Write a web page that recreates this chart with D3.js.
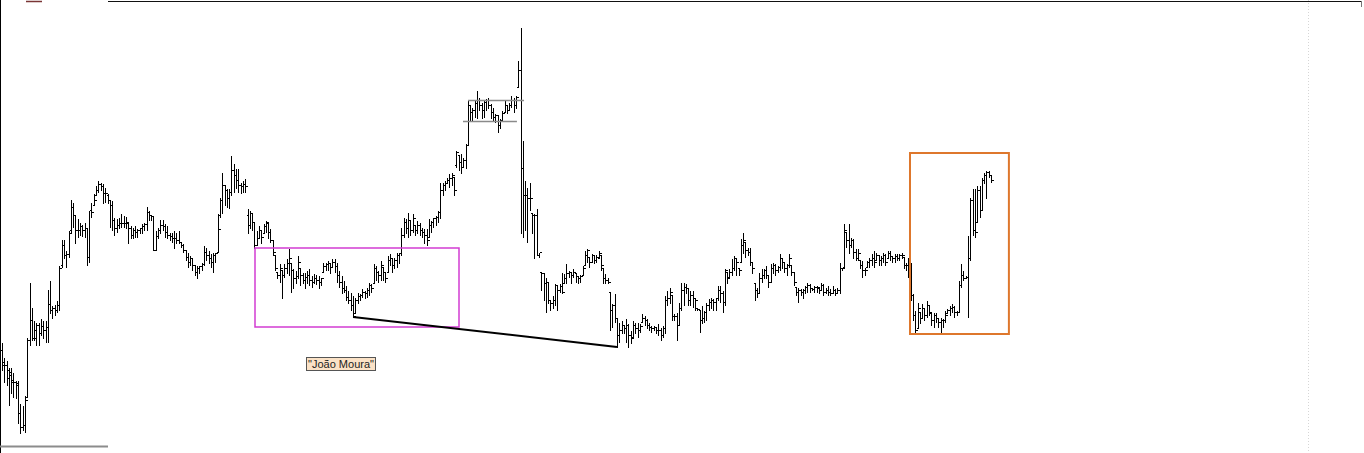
<!DOCTYPE html>
<html>
<head>
<meta charset="utf-8">
<script src="https://cdn.jsdelivr.net/npm/d3@7"></script>
<style>
  html, body { margin: 0; padding: 0; background: #fff; overflow: hidden; }
  svg { display: block; }
</style>
</head>
<body>
<svg id="chart"></svg>
<script>
// OHLC values in price points, one entry per bar, oldest first
const high = [
  158,143,140,133,133,128,120,120,97,95,105,163,218,193,180,178,178,182,180,180,211,220,195,196,200,235,261,261,250,270,301,298,286,282,278,276,278,273,290,298,307,315,320,318,317,313,307,300,300,283,282,283,287,285,284,278,
  275,273,275,272,273,277,278,294,290,285,284,270,273,281,281,277,275,268,268,270,268,270,258,257,250,248,245,243,235,235,235,238,255,253,250,247,248,248,287,303,328,315,312,312,345,337,332,332,318,320,322,
  292,290,288,278,270,275,270,277,280,277,272,260,245,228,237,230,237,242,252,237,232,230,245,232,228,228,230,232,225,227,226,225,223,238,238,240,237,242,242,238,230,225,220,215,210,208,205,203,208,207,212,210,213,218,217,237,235,230,240,233,228,245,247,242,243,248,248,273,283,282,288,280,287,275,280,278,273,272,272,282,280,283,285,290,318,318,320,323,327,328,323,350,345,347,343,357,400,395,393,400,410,403,398,400,402,403,397,393,387,385,382,390,400,395,398,405,403,405,440,473,
  360,320,313,318,287,287,292,248,228,227,223,218,200,205,217,215,217,228,227,237,230,228,232,227,225,226,235,250,252,243,247,245,246,250,245,232,227,223,208,197,207,183,
  178,180,175,182,177,170,180,178,178,177,187,185,182,178,175,175,173,
  177,173,175,205,210,213,205,187,188,198,218,218,217,213,210,210,203,193,190,195,190,198,202,203,202,203,
  215,215,210,232,228,232,242,245,243,232,262,268,258,253,253,238,217,213,228,232,232,235,225,237,238,237,235,247,242,238,237,247,235,228,213,213,212,212,215,218,217,213,215,
  215,212,218,217,213,215,212,215,212,213,238,233,277,268,277,263,262,252,252,240,240,233,240,243,247,250,248,245,245,248,247,250,250,245,247,247,247,248,243,238,243,
  238,207,190,198,188,197,193,200,195,187,188,188,183,183,182,190,192,195,197,195,190,220,237,230,225,265,303,312,312,315,315,323,328,330,330,325
];
const low = [
  130,118,115,95,107,103,102,77,67,70,68,103,155,160,160,155,155,165,162,158,158,187,182,185,188,190,233,242,233,243,267,273,257,263,265,264,263,235,238,283,295,305,308,310,297,298,297,273,270,265,268,272,273,273,272,257,
  262,262,263,263,267,267,270,270,280,280,250,250,262,267,270,263,262,260,258,252,257,257,253,248,240,233,235,230,225,222,227,230,235,240,237,233,228,238,248,283,287,295,293,292,305,308,312,308,307,308,308,
  267,272,270,252,255,262,257,267,268,262,258,245,230,222,218,202,223,227,225,208,212,217,222,215,217,212,217,215,213,217,216,212,215,228,230,230,227,233,228,218,213,207,208,200,197,190,183,187,197,200,203,202,203,205,208,217,220,218,220,220,218,228,235,228,232,233,237,245,263,267,263,265,268,265,267,265,263,257,255,263,268,273,275,278,282,305,310,317,313,315,305,333,330,327,333,332,355,380,380,383,382,390,382,383,390,392,382,380,378,368,372,380,388,387,390,393,388,392,413,267,
  263,270,258,290,267,242,245,243,210,200,188,197,190,192,195,190,208,207,217,217,223,217,223,218,217,218,225,235,238,233,238,237,238,242,230,217,217,217,170,173,178,153,
  158,167,167,158,153,157,163,167,163,168,178,175,172,170,168,170,167,
  165,160,163,167,195,197,180,180,160,175,190,195,207,195,195,193,190,190,168,177,178,180,190,192,190,190,
  200,198,188,195,217,223,225,230,225,225,238,247,243,245,235,227,200,203,207,218,222,222,213,218,227,225,228,230,232,228,225,233,225,215,205,198,205,202,207,208,208,210,208,
  208,207,210,205,207,205,205,207,205,207,207,230,233,253,247,253,242,240,240,232,223,225,233,233,235,233,240,235,235,238,235,242,240,238,238,240,240,242,232,230,223,
  200,180,167,172,177,182,180,183,185,175,173,178,173,167,173,178,187,185,188,183,185,188,213,220,222,183,240,265,263,278,283,290,317,302,323,318
];
const open = [
  150,138,135,130,125,120,118,115,87,73,75,103,160,180,162,170,175,167,174,170,173,196,190,192,190,195,235,255,245,246,270,293,285,270,270,274,270,272,243,290,295,305,310,316,314,307,305,300,295,280,272,275,277,277,277,277,
  272,265,270,268,270,272,274,276,288,285,284,250,264,270,275,274,268,265,264,262,262,260,258,255,250,243,238,242,235,228,232,234,236,248,245,242,238,245,248,285,300,315,310,302,308,330,325,320,315,314,316,
  285,275,287,278,255,262,270,267,274,277,268,260,245,228,225,230,225,232,237,237,230,222,224,232,225,220,223,225,220,218,222,220,218,228,234,236,237,233,238,234,225,218,212,210,203,200,195,187,200,204,205,208,207,210,215,217,232,228,225,233,228,228,240,242,235,240,245,247,265,278,272,280,270,275,270,275,270,268,265,263,275,278,282,283,288,310,315,317,320,322,323,335,345,338,333,340,355,395,388,390,397,400,395,390,398,400,395,388,383,385,375,380,388,395,390,395,400,395,413,430,
  332,305,305,302,287,285,285,245,228,227,217,218,200,197,200,215,210,214,217,222,227,228,225,227,224,222,225,235,245,243,238,245,240,242,245,232,222,220,208,190,195,182,
  165,170,175,172,175,165,163,175,172,170,178,182,180,175,173,172,173,
  170,170,165,172,200,202,205,184,184,175,192,210,213,212,200,205,202,192,190,180,182,188,195,198,200,198,
  202,210,207,198,228,223,228,232,242,232,238,255,258,250,248,238,217,210,207,222,225,230,225,218,232,235,230,233,242,238,232,235,235,228,213,208,210,208,210,213,215,212,211,
  213,212,210,215,208,210,208,207,210,207,210,232,233,268,260,255,260,248,242,240,235,230,233,238,240,242,240,245,240,242,245,242,247,244,242,244,242,245,243,235,235,
  235,205,185,172,188,182,192,185,195,187,180,185,182,178,180,180,187,190,192,193,188,188,215,225,222,223,242,300,270,278,310,290,320,325,328,325
];
const close = [
  135,135,122,128,118,118,117,87,73,75,100,160,180,162,162,175,167,174,170,173,196,190,192,190,195,232,255,245,246,267,293,285,270,270,274,270,272,243,290,288,300,310,316,314,307,307,300,295,280,272,275,277,277,277,278,272,
  265,270,268,270,272,274,276,288,285,284,250,264,270,275,274,268,265,264,262,262,260,258,255,250,243,238,242,235,228,232,234,236,248,245,242,238,245,247,271,300,315,310,302,308,330,325,320,315,314,316,314,
  275,287,278,255,262,270,263,274,278,268,260,248,232,225,232,225,232,237,242,230,222,224,238,225,220,223,225,220,218,222,220,218,222,234,236,237,233,238,234,225,218,212,210,203,200,195,184,200,204,205,208,207,210,215,212,232,228,225,235,228,222,240,242,235,240,245,247,265,278,272,280,270,282,270,275,270,268,265,260,275,278,282,283,288,310,315,317,320,322,325,310,348,338,333,340,355,395,388,390,397,400,395,390,398,400,395,388,383,385,375,380,387,395,390,395,400,395,403,430,332,
  305,305,302,302,285,285,245,248,227,217,218,200,197,200,215,210,214,208,222,227,228,225,228,224,222,224,232,245,250,238,245,240,243,247,235,222,220,218,190,195,182,165,
  170,175,172,175,165,162,175,172,170,174,182,180,175,173,172,173,170,
  170,165,172,200,202,208,184,184,175,192,210,213,212,200,205,202,200,191,180,182,188,195,198,200,198,202,
  210,207,198,230,222,228,232,242,238,230,255,260,250,248,238,232,210,207,222,225,230,225,218,232,235,230,233,242,238,232,235,242,228,218,208,210,208,210,213,215,212,211,213,
  213,210,215,208,210,208,207,210,207,210,232,232,270,260,255,260,248,242,247,235,230,230,238,240,242,238,245,240,242,245,238,247,244,242,244,242,245,245,235,235,235,
  205,185,170,192,182,192,185,195,188,180,185,182,178,180,180,185,190,192,193,188,188,215,225,222,223,242,300,270,268,310,290,320,325,328,325,320
];

// annotations, in bar-index / price units
const trendBars = [153, 268];                 // line joins the lows of these two bars
const rangeBox = [110.2, 199.2, 252, 173];    // x0, x1, top price, bottom price
const breakoutBox = [395.7, 438.8, 347, 166];
const flagLines = [[203.1, 227.5, 400], [200.9, 224.4, 379]];
const noteText = '"João Moura"';
const notePos = [132.5, 143];

const width = 1364;
const height = 453;

const svg = d3.select("#chart")
  .attr("width", width)
  .attr("height", height)
  .attr("viewBox", [0, 0, width, height]);

const bars = high.map((h, i) => ({ i, h, l: low[i], o: open[i], c: close[i] }));

const x = d3.scaleLinear().domain([0, bars.length - 1]).range([2, 991]);
const y = d3.scaleLinear().domain([d3.min(low), d3.max(high)]).range([433, 27]);

const px = v => Math.round(v) + 0.5;

// frame bits
svg.append("line").attr("x1", 0.5).attr("x2", 0.5).attr("y1", 0).attr("y2", height)
  .attr("stroke", "#000").attr("stroke-width", 1);
svg.append("line").attr("x1", 108).attr("x2", 1362).attr("y1", 1.5).attr("y2", 1.5)
  .attr("stroke", "#111").attr("stroke-width", 1);
svg.append("line").attr("x1", 1361.5).attr("x2", 1361.5).attr("y1", 1).attr("y2", 7)
  .attr("stroke", "#777").attr("stroke-width", 1);
svg.append("line").attr("x1", 1308.5).attr("x2", 1308.5).attr("y1", 0).attr("y2", height)
  .attr("stroke", "#d6d6d6").attr("stroke-dasharray", "1,2");
svg.append("line").attr("x1", 0).attr("x2", 108).attr("y1", 446.5).attr("y2", 446.5)
  .attr("stroke", "#8c8c8c").attr("stroke-width", 2);
svg.append("line").attr("x1", 26).attr("x2", 42).attr("y1", 1.5).attr("y2", 1.5)
  .attr("stroke", "#7a3535").attr("stroke-width", 1.5);

// bars
svg.append("g")
  .attr("fill", "none")
  .attr("stroke", "#000")
  .attr("stroke-width", 1)
  .attr("shape-rendering", "crispEdges")
  .selectAll("path")
  .data(bars)
  .join("path")
  .attr("d", d => {
    const X = px(x(d.i));
    const top = px(y(Math.max(d.h, d.o, d.c)));
    const bot = px(y(Math.min(d.l, d.o, d.c)));
    const yo = px(y(d.o)), yc = px(y(d.c));
    return `M${X},${top}V${bot}M${X - 2},${yo}H${X}M${X},${yc}H${X + 2}`;
  });

// consolidation lines near the top
svg.append("g")
  .selectAll("line")
  .data(flagLines)
  .join("line")
  .attr("x1", d => x(d[0]))
  .attr("x2", d => x(d[1]))
  .attr("y1", d => px(y(d[2])))
  .attr("y2", d => px(y(d[2])))
  .attr("stroke", "#8a8a8a")
  .attr("stroke-width", 1.5);

// range box
const rb = {
  x0: Math.round(x(rangeBox[0])), x1: Math.round(x(rangeBox[1])),
  y0: Math.round(y(rangeBox[2])), y1: Math.round(y(rangeBox[3]))
};
svg.append("path")
  .attr("d", `M${rb.x0},${rb.y0}H${rb.x1}V${rb.y1}H${rb.x0}Z`)
  .attr("fill", "none")
  .attr("stroke", "#d23cd2")
  .attr("stroke-width", 1.5);

// breakout box
svg.append("rect")
  .attr("x", x(breakoutBox[0]))
  .attr("y", y(breakoutBox[2]))
  .attr("width", x(breakoutBox[1]) - x(breakoutBox[0]))
  .attr("height", y(breakoutBox[3]) - y(breakoutBox[2]))
  .attr("fill", "none")
  .attr("stroke", "#de772c")
  .attr("stroke-width", 2);

// trend line between the two lows
svg.append("line")
  .attr("x1", x(trendBars[0]))
  .attr("y1", y(low[trendBars[0]]))
  .attr("x2", x(trendBars[1]))
  .attr("y2", y(low[trendBars[1]]))
  .attr("stroke", "#000")
  .attr("stroke-width", 2);

// text note
const note = svg.append("g");
const noteRect = note.append("rect");
const noteLabel = note.append("text")
  .attr("x", x(notePos[0]) + 2)
  .attr("y", y(notePos[1]) + 11)
  .attr("font-family", "Liberation Sans, Arial, sans-serif")
  .attr("font-size", 11)
  .attr("fill", "#222")
  .text(noteText);
const bb = noteLabel.node().getBBox();
noteRect
  .attr("x", px(x(notePos[0])))
  .attr("y", px(y(notePos[1])))
  .attr("width", Math.round(bb.width + 3))
  .attr("height", 13)
  .attr("fill", "#fbe2c6")
  .attr("stroke", "#555")
  .attr("stroke-width", 1);
</script>
</body>
</html>
